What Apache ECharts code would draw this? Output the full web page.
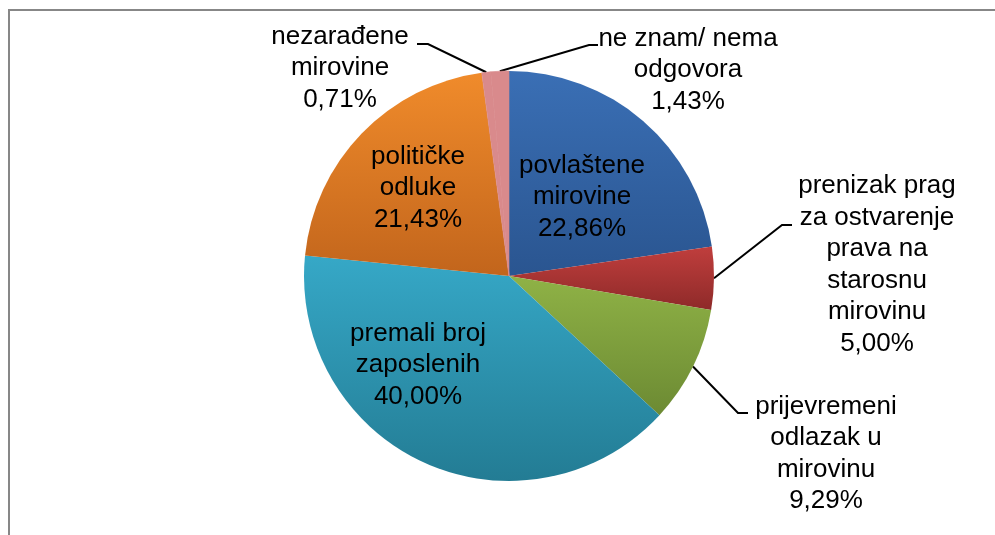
<!DOCTYPE html>
<html>
<head>
<meta charset="utf-8">
<script src="https://cdn.jsdelivr.net/npm/echarts@6/dist/echarts.min.js"></script>
<style>
html,body{margin:0;padding:0;background:#fff;}
#chart{width:995px;height:535px;}
</style>
</head>
<body>
<div id="chart"></div>
<script>
// Data
const categories = [
  'povlaštene\nmirovine',
  'prenizak prag\nza ostvarenje\nprava na\nstarosnu\nmirovinu',
  'prijevremeni\nodlazak u\nmirovinu',
  'premali broj\nzaposlenih',
  'političke\nodluke',
  'nezarađene\nmirovine',
  'ne znam/ nema\nodgovora'
];
const values = [22.86, 5.00, 9.29, 40.00, 21.43, 0.71, 1.43];
const insideLabel = [true, false, false, true, true, false, false];

// Styling
const palette = [
  ['#3A6FB5', '#2A5590'],
  ['#C03E3D', '#8E2A29'],
  ['#8FB246', '#6C8A33'],
  ['#36A8C7', '#237C94'],
  ['#F08B2B', '#C2651C'],
  ['#D98A8C', '#D98A8C'],
  ['#D98A8C', '#D98A8C']
];
// label centre positions (pixels) and leader line elbows
const labelPos = [
  {x: 582, y: 197},
  {x: 877, y: 265, elbow: [782, 225], end: [792, 225]},
  {x: 826, y: 454, elbow: [738, 413], end: [748, 413]},
  {x: 418, y: 365},
  {x: 418, y: 188},
  {x: 340, y: 68, elbow: [428, 44], end: [417, 44]},
  {x: 688, y: 70, elbow: [589, 45], end: [598, 45]}
];

function fmt(v) { return v.toFixed(2).replace('.', ',') + '%'; }

const data = categories.map((name, i) => ({
  name: name,
  value: values[i],
  itemStyle: {
    color: {
      type: 'linear', x: 0, y: 0, x2: 0, y2: 1,
      colorStops: [{offset: 0, color: palette[i][0]}, {offset: 1, color: palette[i][1]}]
    },
    borderWidth: i >= 5 ? 0.6 : 0,
    borderColor: palette[i][0]
  },
  labelLine: {show: !insideLabel[i]}
}));

const chart = echarts.init(document.getElementById('chart'), null, {renderer: 'canvas'});
chart.setOption({
  backgroundColor: '#fff',
  animation: false,
  graphic: [{
    type: 'polyline',
    shape: {points: [[9, 540], [9, 10], [1000, 10]]},
    style: {stroke: '#878787', lineWidth: 2, fill: null},
    silent: true
  }],
  series: [{
    type: 'pie',
    center: [509, 276],
    radius: [0, 205],
    startAngle: 90,
    clockwise: true,
    avoidLabelOverlap: false,
    data: data,
    label: {
      show: true,
      position: 'outside',
      formatter: p => p.name + '\n' + fmt(p.value),
      fontFamily: 'Liberation Sans, Arial, sans-serif',
      fontSize: 26,
      lineHeight: 31.5,
      color: '#000',
      align: 'center'
    },
    labelLine: {
      show: true,
      lineStyle: {color: '#000', width: 2}
    },
    labelLayout: function (params) {
      const i = params.dataIndex;
      const lp = labelPos[i];
      const res = {x: lp.x, y: lp.y, align: 'center', verticalAlign: 'middle'};
      if (lp.elbow && params.labelLinePoints) {
        res.labelLinePoints = [params.labelLinePoints[0], lp.elbow, lp.end];
      }
      return res;
    }
  }]
});
</script>
</body>
</html>
